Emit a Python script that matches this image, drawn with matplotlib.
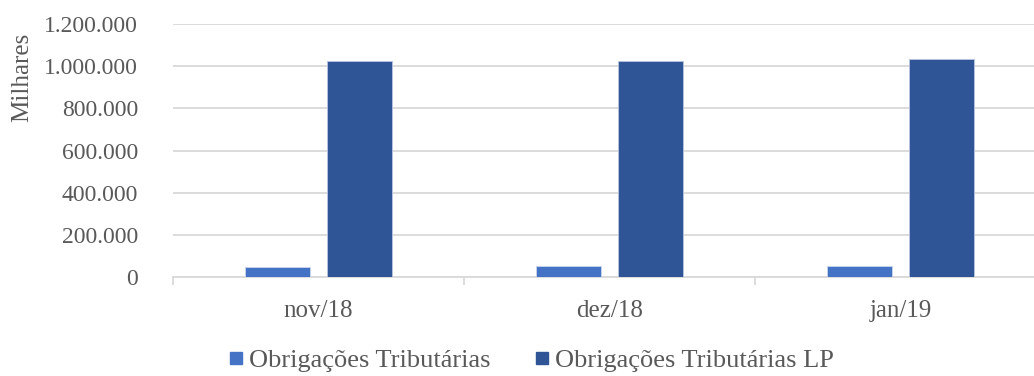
import numpy as np
import matplotlib.pyplot as plt
from matplotlib.lines import Line2D
from matplotlib.ticker import FuncFormatter, FixedLocator

# valores em milhares
meses = ["nov/18", "dez/18", "jan/19"]
obrig_trib = [47000, 53000, 52000]
obrig_trib_lp = [1025000, 1027000, 1033000]
series = ["Obrigações Tributárias", "Obrigações Tributárias LP"]

COR_CURTO = "#4472C4"
COR_LP = "#2F5597"
COR_TEXTO = "#595959"
COR_GRADE = "#D9D9D9"

plt.rcParams["font.family"] = ["Liberation Serif", "DejaVu Serif"]

W, H = 1034, 376
fig = plt.figure(figsize=(W / 100, H / 100), dpi=100)
# eixo vai um pouco além da borda direita
ax = fig.add_axes([173 / W, 1 - 277.3 / H, (1046 - 173) / W, (277.3 - 24) / H])

x = np.arange(len(meses))
larg = 0.223
desloc = 0.141
ax.bar(x - desloc, obrig_trib, larg, color=COR_CURTO, edgecolor="#C9D5EC",
       linewidth=0.6, zorder=3)
ax.bar(x + desloc, obrig_trib_lp, larg, color=COR_LP, edgecolor="#B9C6E0",
       linewidth=0.6, zorder=3)

ax.set_xlim(-0.5, len(meses) - 0.5)
ax.set_ylim(0, 1200000)
ax.set_yticks(np.arange(0, 1200001, 200000))
ax.yaxis.set_major_formatter(FuncFormatter(lambda v, p: f"{int(v):,}".replace(",", ".")))
ax.grid(axis="y", color=COR_GRADE, linewidth=1.3, zorder=0)

ax.set_xticks(x)
ax.set_xticklabels(meses)
ax.xaxis.set_minor_locator(FixedLocator(np.arange(-0.5, len(meses), 1.0)))
ax.tick_params(axis="x", which="major", length=0, pad=16, labelsize=18, labelcolor=COR_TEXTO)
ax.tick_params(axis="x", which="minor", length=6, width=1.3, color=COR_GRADE)
ax.tick_params(axis="y", length=0, pad=25, labelsize=17, labelcolor=COR_TEXTO)

for s in ("top", "right", "left"):
    ax.spines[s].set_visible(False)
ax.spines["bottom"].set_color(COR_GRADE)
ax.spines["bottom"].set_linewidth(1.3)

fig.text(22 / W, 1 - 77 / H, "Milhares", rotation=90, ha="center", va="center",
         fontsize=18, color=COR_TEXTO)

# marcadores quadrados na legenda
handles = [Line2D([], [], marker="s", linestyle="", markersize=9, color=c)
           for c in (COR_CURTO, COR_LP)]
fig.legend(handles, series, loc="center", bbox_to_anchor=(531 / W, 1 - 360 / H),
           ncol=2, frameon=False, fontsize=19, labelcolor=COR_TEXTO,
           handlelength=0.6, handletextpad=0.2, columnspacing=1.65)

fig.savefig("out.png", dpi=100)
